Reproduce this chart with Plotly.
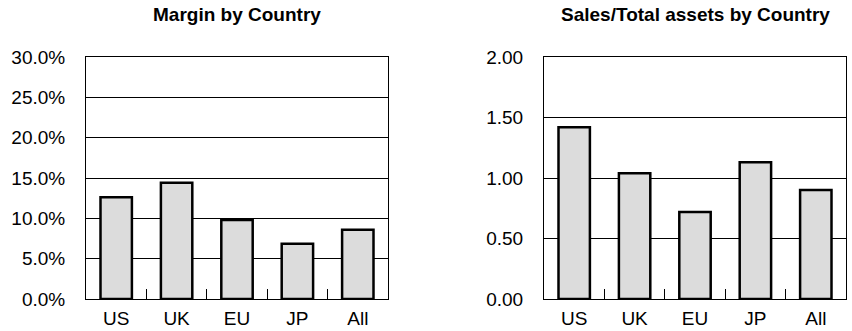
import plotly.graph_objects as go

countries = ["US", "UK", "EU", "JP", "All"]
margin = [0.126, 0.144, 0.098, 0.0685, 0.086]
sales_assets = [1.42, 1.04, 0.72, 1.13, 0.90]

FONT = "Liberation Sans, Arial, Helvetica, sans-serif"
W, H = 852, 331

def dom(a, b, total):
    return [a / total, b / total]

fig = go.Figure()
bar_style = dict(marker=dict(color="#dcdcdc", line=dict(color="black", width=2.5)),
                 width=0.52, showlegend=False, hoverinfo="skip")
fig.add_trace(go.Bar(x=countries, y=margin, xaxis="x", yaxis="y", **bar_style))
fig.add_trace(go.Bar(x=countries, y=sales_assets, xaxis="x2", yaxis="y2", **bar_style))

ydom = [1 - 299 / H, 1 - 57 / H]
xcommon = dict(type="category", tickson="boundaries", ticks="inside", ticklen=10,
               tickcolor="black", tickwidth=1, showline=True, mirror=True,
               linecolor="black", linewidth=1, showgrid=False, automargin=False,
               tickfont=dict(family=FONT, size=19, color="black"), ticklabelstandoff=2)
ycommon = dict(showline=True, mirror=True, linecolor="black", linewidth=1,
               showgrid=True, gridcolor="black", gridwidth=1, ticks="",
               zeroline=False, automargin=False,
               tickfont=dict(family=FONT, size=19, color="black"),
               ticklabelstandoff=16)

fig.update_layout(
    width=W, height=H, margin=dict(l=0, r=0, t=0, b=0),
    paper_bgcolor="white", plot_bgcolor="white",
    xaxis=dict(domain=dom(86, 388, W), anchor="y", **xcommon),
    yaxis=dict(domain=ydom, anchor="x", range=[0, 0.30], dtick=0.05,
               tickformat=".1%", **ycommon),
    xaxis2=dict(domain=dom(544, 846, W), anchor="y2", **xcommon),
    yaxis2=dict(domain=ydom, anchor="x2", range=[0, 2.0], dtick=0.5,
                tickformat=".2f", **ycommon),
    annotations=[
        dict(text="<b>Margin by Country</b>", x=237 / W, y=1 - 15 / H, xref="paper",
             yref="paper", showarrow=False, xanchor="center", yanchor="middle",
             font=dict(family=FONT, size=19, color="black")),
        dict(text="<b>Sales/Total assets by Country</b>", x=695 / W, y=1 - 15 / H,
             xref="paper", yref="paper", showarrow=False, xanchor="center",
             yanchor="middle", font=dict(family=FONT, size=19, color="black")),
    ],
)

fig.write_html("out.html")
